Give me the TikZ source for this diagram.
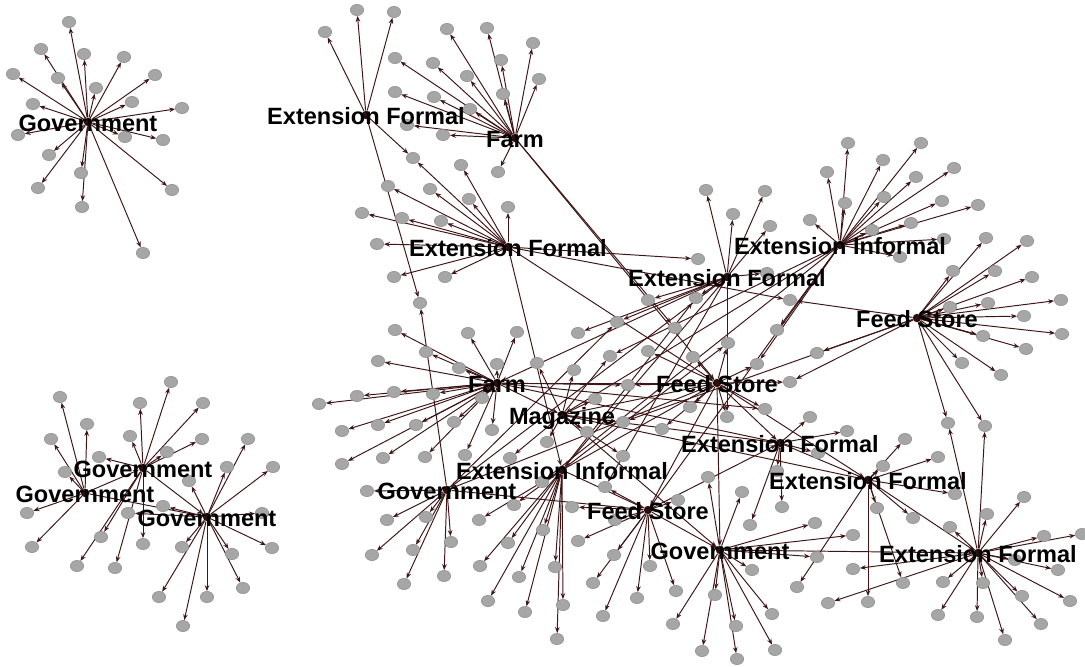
\documentclass[tikz,border=0pt]{standalone}
\usepackage{fontspec}
\setmainfont{Liberation Sans}
\usetikzlibrary{positioning, arrows.meta, shapes.geometric, backgrounds}

\definecolor{linkc}{RGB}{62,22,22}
\definecolor{leafc}{RGB}{166,166,166}

\begin{document}
\begin{tikzpicture}[
        x=0.02cm, y=-0.02cm,
        >={Stealth[length=3.4pt, width=2.6pt]},
        hub/.style={circle, fill=linkc!70!black, minimum size=4.8pt, inner sep=0pt},
        tag/.style={anchor=base, yshift=-5.6pt, inner sep=0pt, font=\fontsize{13.4}{15}\selectfont\bfseries},
        leaf/.style={ellipse, fill=leafc, draw=leafc!85!black, line width=0.3pt, minimum width=7.6pt, minimum height=6.4pt, inner sep=0pt},
        link/.style={->, draw=linkc, line width=0.55pt},
    ]

    \useasboundingbox (0,0) rectangle (1085,666);
    \begin{pgfonlayer}{background}
        \fill[white] (0,0) rectangle (1085,666);
    \end{pgfonlayer}

    % Draw the hubs
    \node[hub] (gov1) at (88,122) {};
    \node[hub] (ef1) at (366,115) {};
    \node[hub] (farm1) at (515,138) {};
    \node[hub] (ef2) at (508,247) {};
    \node[hub] (ef3) at (727,277) {};
    \node[hub] (ei1) at (840,245) {};
    \node[hub] (fs1) at (917,318) {};
    \node[hub] (farm2) at (497,383) {};
    \node[hub] (mag) at (562,415) {};
    \node[hub] (fs2) at (717,383) {};
    \node[hub] (ef4) at (780,443) {};
    \node[hub] (ei2) at (562,470) {};
    \node[hub] (gov2) at (447,490) {};
    \node[hub] (ef5) at (868,480) {};
    \node[hub] (fs3) at (648,510) {};
    \node[hub] (gov3) at (720,550) {};
    \node[hub] (ef6) at (978,553) {};
    \node[hub] (govA) at (143,468) {};
    \node[hub] (govB) at (85,493) {};
    \node[hub] (govC) at (207,517) {};

    % Draw the leaves of every hub, and link them to it
    \foreach \x/\y [count=\i] in {69/22, 41/49, 84/54, 124/57, 13/74, 58/78, 155/75, 96/88, 132/102, 33/104,
            182/108, 18/135, 125/137, 163/140, 49/155, 81/173, 38/188, 172/190, 82/207, 143/253}{
        \node[leaf] (gov1-\i) at (\x,\y) {};
        \begin{pgfonlayer}{background}\draw[link] (gov1) -- (gov1-\i);\end{pgfonlayer}
    }
    \foreach \x/\y [count=\i] in {325/32, 357/10, 394/12, 413/158, 420/303}{
        \node[leaf] (ef1-\i) at (\x,\y) {};
        \begin{pgfonlayer}{background}\draw[link] (ef1) -- (ef1-\i);\end{pgfonlayer}
    }
    \foreach \x/\y [count=\i] in {447/29, 487/28, 533/43, 395/58, 433/63, 467/76, 501/60, 539/79, 395/92, 434/97,
            470/109, 503/94, 407/125, 443/135, 498/172, 675/328}{
        \node[leaf] (farm1-\i) at (\x,\y) {};
        \begin{pgfonlayer}{background}\draw[link] (farm1) -- (farm1-\i);\end{pgfonlayer}
    }
    \foreach \x/\y [count=\i] in {461/165, 388/186, 430/189, 469/199, 508/207, 362/213, 402/218, 441/221, 377/244,
            394/277, 445/277, 698/259}{
        \node[leaf] (ef2-\i) at (\x,\y) {};
        \begin{pgfonlayer}{background}\draw[link] (ef2) -- (ef2-\i);\end{pgfonlayer}
    }
    \foreach \x/\y [count=\i] in {706/190, 733/214, 765/191, 770/226, 767/273, 696/298, 648/300, 617/322, 578/333}{
        \node[leaf] (ef3-\i) at (\x,\y) {};
        \begin{pgfonlayer}{background}\draw[link] (ef3) -- (ef3-\i);\end{pgfonlayer}
    }
    \foreach \x/\y [count=\i] in {848/143, 921/143, 827/172, 883/160, 916/177, 954/168, 845/203, 884/197, 942/201,
            978/205, 911/223, 872/230, 944/239, 900/257, 810/220, 777/330}{
        \node[leaf] (ei1-\i) at (\x,\y) {};
        \begin{pgfonlayer}{background}\draw[link] (ei1) -- (ei1-\i);\end{pgfonlayer}
    }
    \foreach \x/\y [count=\i] in {986/238, 1027/241, 953/271, 995/271, 1032/277, 950/307, 988/303, 1061/300,
            1024/316, 1062/334, 983/336, 1026/349, 962/363, 1001/375, 817/353, 790/300, 948/423, 985/426}{
        \node[leaf] (fs1-\i) at (\x,\y) {};
        \begin{pgfonlayer}{background}\draw[link] (fs1) -- (fs1-\i);\end{pgfonlayer}
    }
    \foreach \x/\y [count=\i] in {395/330, 378/361, 319/404, 357/396, 394/392, 342/431, 342/464, 378/425, 426/352,
            459/368, 433/394, 468/333, 517/332, 497/364, 482/398, 454/422, 465/455, 383/458, 416/425, 425/457, 492/430}{
        \node[leaf] (farm2-\i) at (\x,\y) {};
        \begin{pgfonlayer}{background}\draw[link] (farm2) -- (farm2-\i);\end{pgfonlayer}
    }
    \foreach \x/\y [count=\i] in {537/363, 574/370, 610/356, 595/399, 547/442, 623/422, 510/458, 623/456, 587/432}{
        \node[leaf] (mag-\i) at (\x,\y) {};
        \begin{pgfonlayer}{background}\draw[link] (mag) -- (mag-\i);\end{pgfonlayer}
    }
    \foreach \x/\y [count=\i] in {648/351, 693/357, 728/343, 757/364, 790/382, 765/409, 727/417, 690/407, 628/385, 662/429}{
        \node[leaf] (fs2-\i) at (\x,\y) {};
        \begin{pgfonlayer}{background}\draw[link] (fs2) -- (fs2-\i);\end{pgfonlayer}
    }
    \foreach \x/\y [count=\i] in {810/417, 847/431, 818/453, 782/507, 750/525, 777/471}{
        \node[leaf] (ef4-\i) at (\x,\y) {};
        \begin{pgfonlayer}{background}\draw[link] (ef4) -- (ef4-\i);\end{pgfonlayer}
    }
    \foreach \x/\y [count=\i] in {480/566, 508/543, 488/601, 519/577, 525/612, 543/530, 555/567, 563/605, 557/639,
            479/520, 514/505, 542/482}{
        \node[leaf] (ei2-\i) at (\x,\y) {};
        \begin{pgfonlayer}{background}\draw[link] (ei2) -- (ei2-\i);\end{pgfonlayer}
    }
    \foreach \x/\y [count=\i] in {367/491, 387/520, 426/517, 413/550, 451/542, 404/584, 444/576, 372/555}{
        \node[leaf] (gov2-\i) at (\x,\y) {};
        \begin{pgfonlayer}{background}\draw[link] (gov2) -- (gov2-\i);\end{pgfonlayer}
    }
    \foreach \x/\y [count=\i] in {883/466, 905/439, 938/457, 955/494, 913/518, 877/508, 903/583, 868/602, 797/587}{
        \node[leaf] (ef5-\i) at (\x,\y) {};
        \begin{pgfonlayer}{background}\draw[link] (ef5) -- (ef5-\i);\end{pgfonlayer}
    }
    \foreach \x/\y [count=\i] in {578/541, 614/555, 593/583, 637/598, 603/616, 650/566, 676/591, 572/507, 605/487,
            678/500, 615/520}{
        \node[leaf] (fs3-\i) at (\x,\y) {};
        \begin{pgfonlayer}{background}\draw[link] (fs3) -- (fs3-\i);\end{pgfonlayer}
    }
    \foreach \x/\y [count=\i] in {815/523, 817/557, 752/570, 772/614, 775/650, 736/626, 737/659, 715/595, 702/651,
            673/624, 742/492, 708/477, 853/535}{
        \node[leaf] (gov3-\i) at (\x,\y) {};
        \begin{pgfonlayer}{background}\draw[link] (gov3) -- (gov3-\i);\end{pgfonlayer}
    }
    \foreach \x/\y [count=\i] in {1024/497, 987/514, 950/527, 1044/536, 1082/534, 1015/560, 1058/570, 943/582,
            983/583, 1022/596, 1070/601, 938/615, 977/617, 1005/640, 1041/624, 828/603, 853/569}{
        \node[leaf] (ef6-\i) at (\x,\y) {};
        \begin{pgfonlayer}{background}\draw[link] (ef6) -- (ef6-\i);\end{pgfonlayer}
    }
    \foreach \x/\y [count=\i] in {130/436, 140/403, 171/382, 203/403, 202/439, 99/457, 167/452, 101/537, 77/566,
            115/568, 143/544}{
        \node[leaf] (govA-\i) at (\x,\y) {};
        \begin{pgfonlayer}{background}\draw[link] (govA) -- (govA-\i);\end{pgfonlayer}
    }
    \foreach \x/\y [count=\i] in {60/397, 87/424, 51/439, 65/472, 27/513, 32/547}{
        \node[leaf] (govB-\i) at (\x,\y) {};
        \begin{pgfonlayer}{background}\draw[link] (govB) -- (govB-\i);\end{pgfonlayer}
    }
    \foreach \x/\y [count=\i] in {248/439, 273/467, 227/467, 262/513, 272/548, 232/554, 243/588, 207/597, 159/597,
            183/626, 182/547, 163/506, 128/513, 189/481}{
        \node[leaf] (govC-\i) at (\x,\y) {};
        \begin{pgfonlayer}{background}\draw[link] (govC) -- (govC-\i);\end{pgfonlayer}
    }

    % Links between hubs, and to leaves of other hubs
    \begin{pgfonlayer}{background}
        \foreach \source/\dest in {ef2/ef1-4, gov2/ef1-5, farm1/fs2, ef2/ei2, ef2/fs2, ef2/fs1-16, ei1/fs3,
                ei1/fs2-4, ef3/gov2, ef3/ei2, fs2/ef4, fs2/ef5, ef4/ef5, ef5/ef6, ef6/fs1-17, ef6/fs1-18,
                gov2/fs3, gov2/fs2, ei2/fs3, ei2/fs2, fs3/gov3, fs3/ef4, farm2/mag, farm2/fs2, farm2/fs2-9,
                mag/fs2, mag/ef4, mag/ef5, gov3/ef6, govB/govC, govA/govC, govB/govA,
                ei1/mag-3, ei1/mag, ef3/farm2, ef3/fs3-9, fs1/mag-6, gov2/ef3-8, ei2/ef3-6, ei2/fs2-3,
                farm2/fs2-6, farm2/ef4, mag/gov3, fs2/fs3, fs2/gov3, ef3/fs2-7, fs1/fs2-5, ei1/ei2-12}
            \draw[link] (\source) -- (\dest);
    \end{pgfonlayer}

    % Labels of the hubs
    \node[tag] (gov1-t) at (gov1) {Government};
    \node[tag] (ef1-t) at (ef1) {Extension Formal};
    \node[tag] (farm1-t) at (farm1) {Farm};
    \node[tag] (ef2-t) at (ef2) {Extension Formal};
    \node[tag] (ef3-t) at (ef3) {Extension Formal};
    \node[tag] (ei1-t) at (ei1) {Extension Informal};
    \node[tag] (fs1-t) at (fs1) {Feed Store};
    \node[tag] (farm2-t) at (farm2) {Farm};
    \node[tag] (mag-t) at (mag) {Magazine};
    \node[tag] (fs2-t) at (fs2) {Feed Store};
    \node[tag] (ef4-t) at (ef4) {Extension Formal};
    \node[tag] (ei2-t) at (ei2) {Extension Informal};
    \node[tag] (gov2-t) at (gov2) {Government};
    \node[tag] (ef5-t) at (ef5) {Extension Formal};
    \node[tag] (fs3-t) at (fs3) {Feed Store};
    \node[tag] (gov3-t) at (gov3) {Government};
    \node[tag] (ef6-t) at (ef6) {Extension Formal};
    \node[tag] (govA-t) at (govA) {Government};
    \node[tag] (govB-t) at (govB) {Government};
    \node[tag] (govC-t) at (govC) {Government};
\end{tikzpicture}
\end{document}
